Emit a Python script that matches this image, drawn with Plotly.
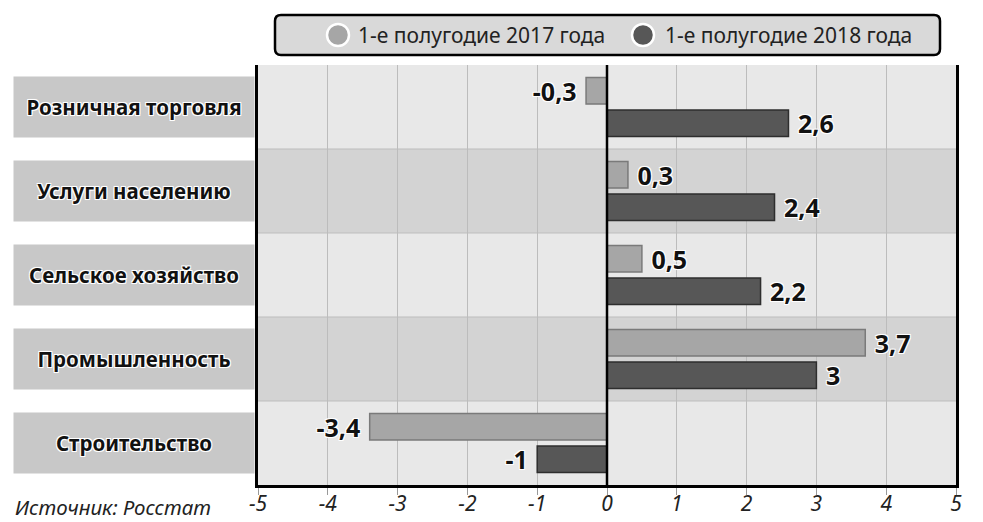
import plotly.graph_objects as go

categories = ["Розничная торговля", "Услуги населению", "Сельское хозяйство",
              "Промышленность", "Строительство"]
series_names = ["1-е полугодие 2017 года", "1-е полугодие 2018 года"]
values_2017 = [-0.3, 0.3, 0.5, 3.7, -3.4]
values_2018 = [2.6, 2.4, 2.2, 3, -1]
x_ticks = [-5, -4, -3, -2, -1, 0, 1, 2, 3, 4, 5]
source_text = "Источник: Росстат"

bar_colors = ["#a6a6a6", "#575757"]
edge_colors = ["#7a7a7a", "#2e2e2e"]
halo = "-1px -1px 0 #fff, 1px -1px 0 #fff, -1px 1px 0 #fff, 1px 1px 0 #fff, 0 0 2px #fff"

# page has an 8px body margin; figure is sized/margined to compensate
PAGE_OFF = 8
W, H = 983 - PAGE_OFF, 522 - PAGE_OFF
PL, PR, PT, PB = 258, 956, 65, 485          # plot area in page pixels
ML = PL - PAGE_OFF
MT = PT - PAGE_OFF
MR = W - (PR - PAGE_OFF)
MB = H - (PB - PAGE_OFF)


def px(x):
    return (x - PL) / (PR - PL)


def py(y):
    return (PB - y) / (PB - PT)


def fmt(v):
    s = ("%g" % v).replace(".", ",")
    return ("\u00a0" + s) if v >= 0 else (s + "\u00a0")


fig = go.Figure()
for name, vals, col, edge in zip(series_names, [values_2017, values_2018], bar_colors, edge_colors):
    fig.add_trace(go.Bar(
        y=categories, x=vals, orientation="h", name=name, showlegend=False,
        marker=dict(color=col, line=dict(color=edge, width=1.5)),
        text=[fmt(v) for v in vals], textposition="outside",
        constraintext="none", cliponaxis=False,
        textfont=dict(family="Noto Sans", size=25, color="#111", weight="bold", shadow=halo),
    ))

shapes = []
for i, c in enumerate(categories):
    shapes.append(dict(type="rect", xref="paper", yref="y", x0=0, x1=1,
                       y0=i - 0.5, y1=i + 0.5, layer="below", line=dict(width=0),
                       fillcolor="#e8e8e8" if i % 2 == 0 else "#d3d3d3"))
    if i > 0:
        shapes.append(dict(type="line", xref="paper", yref="y", x0=0, x1=1,
                           y0=i - 0.5, y1=i - 0.5, layer="below",
                           line=dict(color="#bdbdbd", width=1)))
shapes.append(dict(type="line", xref="x", yref="paper", x0=0, x1=0, y0=0, y1=1,
                   line=dict(color="black", width=2.5), layer="above"))

# legend box (rounded) drawn manually
bx0, bx1, by0, by1, r = 275, 940, 15, 55, 6
path = (f"M {px(bx0 + r)},{py(by0)} L {px(bx1 - r)},{py(by0)} "
        f"Q {px(bx1)},{py(by0)} {px(bx1)},{py(by0 + r)} L {px(bx1)},{py(by1 - r)} "
        f"Q {px(bx1)},{py(by1)} {px(bx1 - r)},{py(by1)} L {px(bx0 + r)},{py(by1)} "
        f"Q {px(bx0)},{py(by1)} {px(bx0)},{py(by1 - r)} L {px(bx0)},{py(by0 + r)} "
        f"Q {px(bx0)},{py(by0)} {px(bx0 + r)},{py(by0)} Z")
shapes.append(dict(type="path", xref="paper", yref="paper", path=path,
                   fillcolor="#d9d9d9", line=dict(color="black", width=2.5)))

annotations = []
legend_circle_x = [338, 643]
legend_text_x = [356, 663]
for name, col, cx, tx in zip(series_names, bar_colors, legend_circle_x, legend_text_x):
    shapes.append(dict(type="circle", xref="paper", yref="paper",
                       xsizemode="pixel", ysizemode="pixel",
                       xanchor=px(cx), yanchor=py(35), x0=-11, x1=11, y0=-11, y1=11,
                       fillcolor=col, line=dict(color="white", width=2.5)))
    annotations.append(dict(xref="paper", yref="paper", x=px(tx), y=py(35), text=name,
                            showarrow=False, xanchor="left", yanchor="middle",
                            font=dict(family="Noto Sans", size=21, color="#222")))

for c in categories:
    annotations.append(dict(
        xref="paper", yref="y", x=px(134), y=c, text=c, showarrow=False,
        xanchor="center", yanchor="middle", width=238, height=58,
        bgcolor="#c8c8c8",
        font=dict(family="Noto Sans", size=20.5, color="#111", weight="bold", shadow=halo),
    ))
annotations.append(dict(
    xref="paper", yref="paper", x=px(13), y=py(507), text=source_text, showarrow=False,
    xanchor="left", yanchor="middle",
    font=dict(family="Noto Sans", size=20.5, color="#222", style="italic"),
))

fig.update_layout(
    width=W, height=H,
    margin=dict(l=ML, r=MR, t=MT, b=MB, pad=0, autoexpand=False),
    paper_bgcolor="white", plot_bgcolor="#e4e4e4",
    barmode="group", bargap=0.23, bargroupgap=0.18,
    showlegend=False,
    shapes=shapes, annotations=annotations,
    xaxis=dict(range=[-5, 5], tickvals=x_ticks, ticktext=[str(t) for t in x_ticks],
               automargin=False,
               showgrid=True, gridcolor="#bcbcbc", gridwidth=1, zeroline=False,
               showline=True, linecolor="black", linewidth=3, mirror=False,
               ticks="outside", ticklen=7, tickcolor="#999", ticklabelstandoff=-9,
               tickfont=dict(family="Noto Sans", size=21, color="#222", style="italic")),
    yaxis=dict(autorange="reversed", showticklabels=False, showgrid=False,
               automargin=False,
               zeroline=False, showline=True, linecolor="black", linewidth=3, mirror=True,
               ticks=""),
)
fig.write_html("out.html")
